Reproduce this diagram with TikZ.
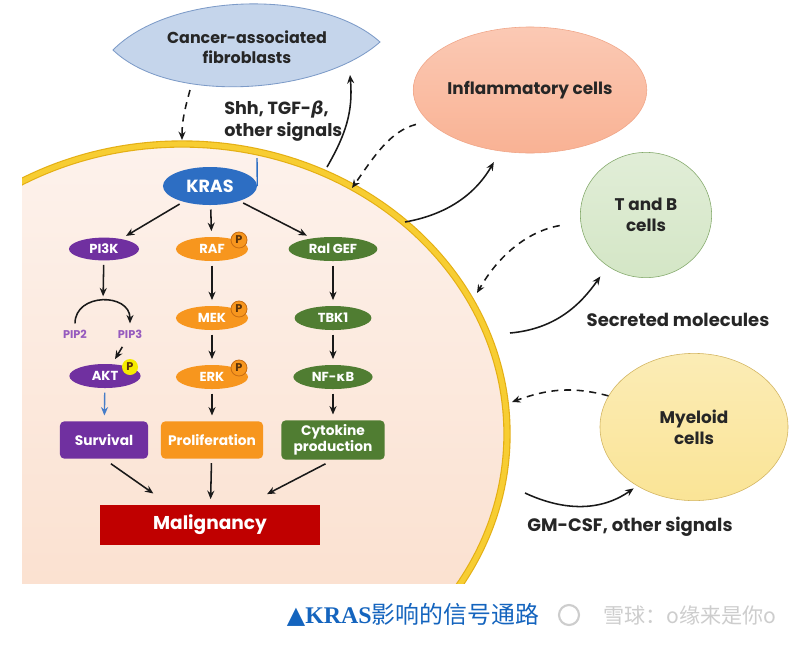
\documentclass[tikz,border=0pt]{standalone}
\usepackage{fontspec}
\setmainfont{Poppins}
\newfontfamily\grkfont{DejaVu Sans}
\newfontfamily\cjkfont{Noto Sans CJK SC}
\newfontfamily\capfont{Liberation Serif}
\usetikzlibrary{arrows.meta,positioning,shapes.geometric}

\definecolor{pathpurple}{RGB}{112,48,160}
\definecolor{pathorange}{RGB}{247,150,30}
\definecolor{pathgreen}{RGB}{80,125,50}
\definecolor{krasblue}{RGB}{45,110,195}
\definecolor{maligred}{RGB}{192,0,0}
\definecolor{pipviolet}{RGB}{150,90,190}
\definecolor{badgeedge}{RGB}{200,110,20}
\definecolor{pbrown}{RGB}{90,50,10}
\definecolor{aktyellow}{RGB}{245,235,0}
\definecolor{survblue}{RGB}{70,125,200}
\definecolor{celltop}{RGB}{253,242,236}
\definecolor{cellbot}{RGB}{250,220,200}
\definecolor{membrane}{RGB}{247,205,50}
\definecolor{membedge}{RGB}{228,175,20}
\definecolor{caffill}{RGB}{197,213,235}
\definecolor{cafedge}{RGB}{125,155,200}
\definecolor{inflfill}{RGB}{249,178,148}
\definecolor{infledge}{RGB}{240,165,135}
\definecolor{tbfill}{RGB}{212,230,198}
\definecolor{tbedge}{RGB}{130,168,105}
\definecolor{myfill}{RGB}{250,228,150}
\definecolor{myedge}{RGB}{210,180,95}
\definecolor{capblue}{RGB}{20,100,190}
\definecolor{wmgrey}{RGB}{205,205,205}

\begin{document}
\begin{tikzpicture}[
    x = 0.025cm, y = -0.025cm,
    font = \bfseries,
    prot/.style={
      ellipse,
      fill = #1,
      text = white,
      inner sep = 0pt,
      minimum width = 1.8cm,
      minimum height = 0.6cm,
      font = \bfseries\fontsize{9.3}{11}\selectfont,
    },
    pbadge/.style={
      circle,
      fill = #1,
      draw = badgeedge,
      line width = 0.6pt,
      inner sep = 0pt,
      minimum size = 0.4cm,
      text = pbrown,
      font = \bfseries\fontsize{8}{8}\selectfont,
    },
    outcome/.style={
      fill = #1,
      rounded corners = 3pt,
      text = white,
      align = center,
      minimum width = 2.2cm,
      minimum height = 0.93cm,
      inner sep = 1pt,
      font = \bfseries\fontsize{9.8}{11.5}\selectfont,
    },
    cellpop/.style 2 args={
      ellipse,
      draw = #2,
      top color = #1!70!white,
      bottom color = #1,
      text = black!85,
      align = center,
      inner sep = 0pt,
      font = \bfseries\fontsize{12}{15}\selectfont,
    },
    lbl/.style={
      text = black!85,
      align = left,
      inner sep = 0pt,
      font = \bfseries\fontsize{12.5}{16}\selectfont,
    },
    sig/.style={-{Stealth[length=6pt,width=5pt]}, line width=1.1pt, black!90},
    cascade/.style={sig, shorten <=3pt, shorten >=4pt},
    paracrine/.style={sig, dash pattern=on 5pt off 4pt},
  ]
  \useasboundingbox[fill=white] (0,0) rectangle (800,646);

  % tumour cell
  \begin{scope}
    \clip (22,0) rectangle (800,583);
    \shade[top color=celltop, bottom color=cellbot] (182,434) ellipse [x radius=325, y radius=290];
    \draw[membedge, line width=5.2pt] (182,434) ellipse [x radius=325, y radius=290];
    \draw[membrane, line width=3.6pt] (182,434) ellipse [x radius=325, y radius=290];
  \end{scope}

  % fibroblasts
  \filldraw[fill=caffill, draw=cafedge, line width=0.6pt]
    (113,50) .. controls (170,-8) and (320,-12) .. (380,42)
             .. controls (320,95) and (170,105) .. cycle;
  \node[lbl, align=center, font=\bfseries\fontsize{11.3}{14.5}\selectfont]
    (caf) at (247,47) {Cancer-associated\\fibroblasts};

  % points on the membrane
  \coordinate (cafOut) at (190,90);
  \coordinate (cafIn) at (350,75);
  \coordinate (memCAF) at (182,140);
  \coordinate (memOutCAF) at (327,167);
  \coordinate (memInfl) at (352,188);
  \coordinate (memOutInfl) at (405,222);
  \coordinate (memTB) at (477,293);
  \coordinate (memOutTB) at (510,333);
  \coordinate (memMy) at (512,402);
  \coordinate (memOutMy) at (525,493);
  \coordinate (lipid) at (257,158);

  % other cell populations
  \node[cellpop={inflfill}{infledge}, minimum width=4.58cm, minimum height=3.15cm] (infl) at (530,90) {Inflammatory cells};
  \node[cellpop={tbfill}{tbedge}, minimum width=3.28cm, minimum height=3.13cm] (tb) at (646,215) {T and B\\cells};
  \node[cellpop={myfill}{myedge}, minimum width=4.7cm, minimum height=3.68cm] (myel) at (694,427) {Myeloid\\cells};

  \node[lbl, anchor=west] (shh) at (224,121) {Shh, TGF-{\grkfont\itshape β},\\other signals};
  \node[lbl, font=\bfseries\fontsize{12.8}{16}\selectfont] (secr) at (678,320) {Secreted molecules};
  \node[lbl, font=\bfseries\fontsize{12.8}{16}\selectfont] (gmcsf) at (630,527) {GM-CSF, other signals};

  % signalling inside the cell
  \node[prot=krasblue, minimum width=2.35cm, minimum height=0.95cm, font=\bfseries\fontsize{12.5}{14}\selectfont] (kras) at (210,186) {KRAS};
  \draw[krasblue, line width=1pt] (kras.east) -- (lipid);

  \node[prot=pathpurple, minimum width=1.75cm, minimum height=0.57cm] (pi3k) at (104,249) {PI3K};
  \node[prot=pathorange] (raf) at (212,249) {RAF};
  \node[prot=pathgreen, minimum width=2.22cm] (ralgef) at (333,249) {Ral GEF};

  \node[text=pipviolet, font=\bfseries\fontsize{8}{9}\selectfont] (pip2) at (75,334) {PIP2};
  \node[text=pipviolet, font=\bfseries\fontsize{8}{9}\selectfont] (pip3) at (130,334) {PIP3};
  \coordinate (pipTop) at (103,302);
  \node[prot=pathorange] (mek) at (212,318) {MEK};
  \node[prot=pathgreen, minimum width=1.92cm] (tbk1) at (333,318) {TBK1};

  \node[prot=pathpurple, minimum width=1.78cm] (akt) at (105,376) {AKT};
  \node[prot=pathorange] (erk) at (212,377) {ERK};
  \node[prot=pathgreen, minimum width=1.98cm] (nfkb) at (333,377) {NF-{\grkfont κ}B};

  \node[pbadge=pathorange] (rafP) at ([shift={(27,-9)}]raf.center) {P};
  \node[pbadge=pathorange] (mekP) at ([shift={(27,-9)}]mek.center) {P};
  \node[pbadge=pathorange] (erkP) at ([shift={(27,-9)}]erk.center) {P};
  \node[pbadge=aktyellow, draw=none] (aktP) at ([shift={(25,-9)}]akt.center) {P};

  \node[outcome=pathpurple] (surv) at (104,440) {Survival};
  \node[outcome=pathorange, minimum width=2.55cm] (prolif) at (212,440) {Proliferation};
  \node[outcome=pathgreen, minimum width=2.58cm, minimum height=0.98cm] (cyto) at (333,440) {Cytokine\\production};

  \node[fill=maligred, text=white, minimum width=5.48cm, minimum height=1cm,
        font=\bfseries\fontsize{13.2}{15}\selectfont] (malig) at (210,525) {Malignancy};

  \draw[cascade] (kras) -- (pi3k);
  \draw[cascade] (kras) -- (raf);
  \draw[cascade] (kras) -- (ralgef);
  \draw[cascade] (pi3k) -- (pipTop);
  \draw[cascade, shorten <=1pt, shorten >=1pt] (pip2.north) to[out=90, in=90, looseness=1.5] (pip3.north);
  \draw[cascade] (pip3) -- (akt);
  \draw[cascade, survblue, line width=1pt] (akt) -- (surv);
  \draw[cascade] (raf) -- (mek);
  \draw[cascade] (mek) -- (erk);
  \draw[cascade] (erk) -- (prolif);
  \draw[cascade] (ralgef) -- (tbk1);
  \draw[cascade] (tbk1) -- (nfkb);
  \draw[cascade] (nfkb) -- (cyto);
  \draw[cascade, shorten <=6pt] (surv.south) -- ([xshift=-1.3cm, yshift=0.2cm]malig.north);
  \draw[cascade] (prolif) -- (malig);
  \draw[cascade, shorten <=6pt] (cyto.south) -- ([xshift=1.3cm, yshift=0.2cm]malig.north);

  % exchanges with the microenvironment
  \draw[paracrine] (cafOut) to[out=-105, in=90] (memCAF);
  \draw[sig] (memOutCAF) to[out=60, in=-85] (cafIn);
  \draw[paracrine, shorten <=9pt] (infl.197) to[out=195, in=55] (memInfl);
  \draw[sig, shorten >=9pt] (memOutInfl) to[out=10, in=240] (infl.244);
  \draw[paracrine, shorten <=15pt] (tb.186) to[out=190, in=60] (memTB);
  \draw[sig, shorten >=9pt] (memOutTB) to[out=5, in=235] (tb.233);
  \draw[paracrine] (myel.160) to[out=165, in=20] (memMy);
  \draw[sig, shorten >=3pt] (memOutMy) to[out=-25, in=215] (myel.226);

  % caption
  \node[text=capblue, font=\fontsize{17}{20}\selectfont] (caption) at (413,615)
    {{\grkfont\mdseries ▲}{\capfont\bfseries KRAS}{\cjkfont\mdseries 影响的信号通路}};
  \node[circle, draw=wmgrey, line width=1.5pt, minimum size=0.5cm] (logo) at (569,615) {};
  \node[text=wmgrey, font=\fontsize{15}{18}\selectfont] (wm) at (690,615) {\cjkfont\mdseries 雪球：o缘来是你o};
\end{tikzpicture}
\end{document}
